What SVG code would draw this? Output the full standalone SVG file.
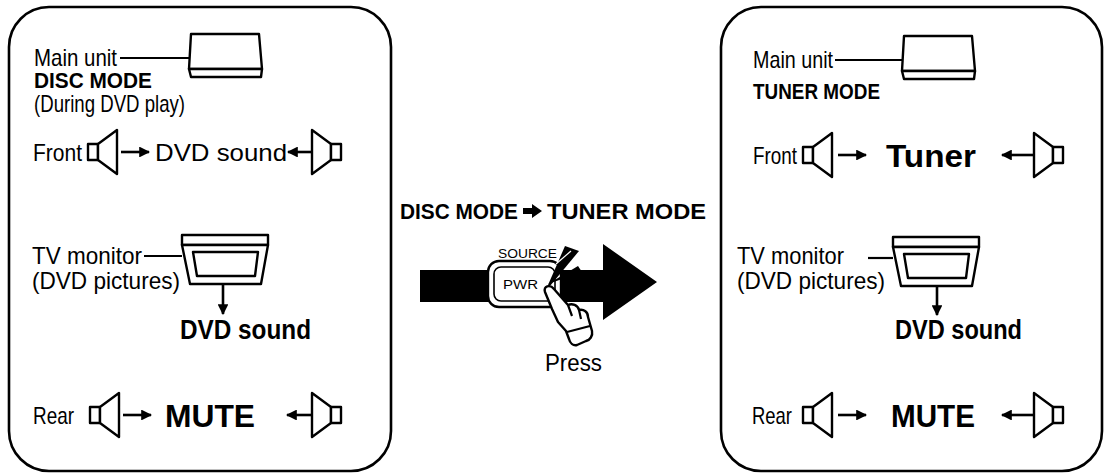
<svg xmlns="http://www.w3.org/2000/svg" xmlns:xlink="http://www.w3.org/1999/xlink" width="1107" height="474" viewBox="0 0 1107 474">
  <style>
    .panel { fill: none; stroke: #000; stroke-width: 2.6; }
    .ln { fill: none; stroke: #000; stroke-width: 2.2; }
    .arr { fill: none; stroke: #000; stroke-width: 2.6; }
    .shape { fill: #fff; stroke: #000; stroke-width: 2.4; stroke-linejoin: round; }
    .ink { fill: #000; stroke: none; }
    text { font-family: "Liberation Sans", Arial, sans-serif; fill: #000; }
    .reg { font-size: 24px; }
    .bsm { font-size: 22px; font-weight: bold; }
    .bmd { font-size: 28px; font-weight: bold; }
    .blg { font-size: 32px; font-weight: bold; }
    .tiny { font-size: 12px; }
  </style>
  <defs>
    <!-- speaker, magnet on the left, cone opening to the right -->
    <g id="spkR">
      <rect x="0" y="-8" width="10" height="16" class="shape"/>
      <path d="M10,-8 L29,-22 L29,22 L10,8 Z" class="shape"/>
    </g>
    <!-- speaker, cone opening to the left, magnet on the right -->
    <g id="spkL">
      <path d="M0,-22 L19,-8 L19,8 L0,22 Z" class="shape"/>
      <rect x="19" y="-8" width="10" height="16" class="shape"/>
    </g>
    <marker id="head" viewBox="0 0 10 10" refX="9" refY="5" markerWidth="4.2" markerHeight="4.2" orient="auto">
      <path d="M0,0 L10,5 L0,10 Z" fill="#000"/>
    </marker>
    <!-- main unit box -->
    <g id="unit">
      <path d="M2,1 L70,1 L73,36 L0,36 Z" class="shape"/>
      <path d="M0,36 L73,36 L72,44 L2,44 Z" class="shape"/>
    </g>
    <!-- TV monitor -->
    <g id="tv">
      <path d="M0,0 L86,0 L86,10 L0,10 Z" class="shape"/>
      <path d="M0,10 L86,10 L79,49 L8,49 Z" class="shape"/>
      <path d="M11,17 L76,17 L73,41 L15,41 Z" class="shape"/>
    </g>
  </defs>

  <!-- left panel: disc mode -->
  <g id="panel-disc">
    <rect x="9" y="7" width="382" height="464" rx="40" ry="40" class="panel"/>
  </g>

  <g id="disc-main-unit">
    <text class="reg" x="34" y="66" textLength="83" lengthAdjust="spacingAndGlyphs">Main unit</text>
    <use xlink:href="#unit" x="189" y="33"/>
  </g>
  <g id="disc-mode-label">
    <text class="bsm" x="34" y="88" textLength="118" lengthAdjust="spacingAndGlyphs">DISC MODE</text>
    <text class="reg" x="34" y="112" textLength="151" lengthAdjust="spacingAndGlyphs">(During DVD play)</text>
  </g>
  <g id="disc-front">
    <text class="reg" x="33" y="161" textLength="49" lengthAdjust="spacingAndGlyphs">Front</text>
    <use xlink:href="#spkR" x="88" y="152"/>
    <text class="reg" x="155" y="161" textLength="132" lengthAdjust="spacingAndGlyphs">DVD sound</text>
    <use xlink:href="#spkL" x="312" y="152"/>
  </g>
  <g id="disc-tv">
    <text class="reg" x="32" y="264" textLength="110" lengthAdjust="spacingAndGlyphs">TV monitor</text>
    <text class="reg" x="32" y="289" textLength="148" lengthAdjust="spacingAndGlyphs">(DVD pictures)</text>
    <use xlink:href="#tv" x="182" y="235"/>
    <text class="bmd" x="180" y="339" textLength="131" lengthAdjust="spacingAndGlyphs">DVD sound</text>
  </g>
  <g id="disc-rear">
    <text class="reg" x="33" y="424" textLength="41" lengthAdjust="spacingAndGlyphs">Rear</text>
    <use xlink:href="#spkR" x="90" y="415"/>
    <text class="blg" x="165" y="427" textLength="90" lengthAdjust="spacingAndGlyphs">MUTE</text>
    <use xlink:href="#spkL" x="312" y="415"/>
  </g>

  <!-- middle: mode change by pressing SOURCE/PWR -->
  <g id="mode-change">
    <text class="bsm" x="400" y="219" textLength="118" lengthAdjust="spacingAndGlyphs">DISC MODE</text>
    <path d="M523,208 L532,208 L532,204 L542,211 L532,218 L532,214 L523,214 Z" class="ink"/>
    <text class="bsm" x="547" y="219" textLength="159" lengthAdjust="spacingAndGlyphs">TUNER MODE</text>
  </g>
  <g id="big-arrow">
    <path d="M420,270 L603,270 L603,244 L657,282 L603,320 L603,302 L420,302 Z" class="ink"/>
  </g>
  <g id="source-button">
    <rect x="488" y="261" width="73" height="46" rx="11" class="shape" stroke-width="2.6"/>
    <rect x="494" y="267" width="61" height="34" rx="7" fill="none" stroke="#000" stroke-width="1.6"/>
    <text class="tiny" x="498" y="258" textLength="59" lengthAdjust="spacingAndGlyphs">SOURCE</text>
    <text class="tiny" x="503" y="289" textLength="35" lengthAdjust="spacingAndGlyphs">PWR</text>
    <path d="M545,292 L565,246 L579,251 Z" class="ink"/>
    <path d="M556,264 L571,251" stroke="#fff" stroke-width="1.2"/>
    <path d="M548,284 L578,266 L582,272 Z" class="ink"/>
  </g>
  <g id="hand">
    <path d="M545,292 C543,286 550,284 554,289 L568,305 C572,303 578,305 579,310 C584,309 588,312 588,317 L592,331 C593,336 590,340 586,341 L577,345 C573,346 570,343 569,339 L566,331 L558,322 L552,309 Z" class="shape" stroke-width="2"/>
    <path d="M567,332 L590,326" class="ln" stroke-width="1.8"/>
    <path d="M568,305 L572,316 M579,310 L581,319" class="ln" stroke-width="1.6"/>
    <text class="reg" x="545" y="371" textLength="57" lengthAdjust="spacingAndGlyphs">Press</text>
  </g>

  <!-- right panel: tuner mode -->
  <g id="panel-tuner">
    <rect x="721" y="7" width="381" height="464" rx="40" ry="40" class="panel"/>
  </g>

  <g id="tuner-main-unit">
    <text class="reg" x="753" y="68" textLength="80" lengthAdjust="spacingAndGlyphs">Main unit</text>
    <use xlink:href="#unit" x="902" y="35"/>
  </g>
  <g id="tuner-mode-label">
    <text class="bsm" x="753" y="99" textLength="127" lengthAdjust="spacingAndGlyphs">TUNER MODE</text>
  </g>
  <g id="tuner-front">
    <text class="reg" x="753" y="164" textLength="44" lengthAdjust="spacingAndGlyphs">Front</text>
    <use xlink:href="#spkR" x="803" y="155"/>
    <text class="blg" x="886" y="167" textLength="90" lengthAdjust="spacingAndGlyphs">Tuner</text>
    <use xlink:href="#spkL" x="1034" y="155"/>
  </g>
  <g id="tuner-tv">
    <text class="reg" x="737" y="264" textLength="107" lengthAdjust="spacingAndGlyphs">TV monitor</text>
    <text class="reg" x="737" y="289" textLength="148" lengthAdjust="spacingAndGlyphs">(DVD pictures)</text>
    <use xlink:href="#tv" x="893" y="237"/>
    <text class="bmd" x="895" y="339" textLength="127" lengthAdjust="spacingAndGlyphs">DVD sound</text>
  </g>
  <g id="tuner-rear">
    <text class="reg" x="752" y="424" textLength="40" lengthAdjust="spacingAndGlyphs">Rear</text>
    <use xlink:href="#spkR" x="803" y="415"/>
    <text class="blg" x="891" y="427" textLength="84" lengthAdjust="spacingAndGlyphs">MUTE</text>
    <use xlink:href="#spkL" x="1034" y="415"/>
  </g>

  <!-- connectors -->
  <g id="connectors">
    <path d="M120,58 L189,58" class="ln"/>
    <path d="M144,256 L182,256" class="ln"/>
    <path d="M121,152 L149,152" class="arr" marker-end="url(#head)"/>
    <path d="M311,152 L288,152" class="arr" marker-end="url(#head)"/>
    <path d="M223,284 L223,314" class="arr" marker-end="url(#head)"/>
    <path d="M123,415 L151,415" class="arr" marker-end="url(#head)"/>
    <path d="M311,415 L287,415" class="arr" marker-end="url(#head)"/>

    <path d="M835,60 L902,60" class="ln"/>
    <path d="M868,258 L893,258" class="ln"/>
    <path d="M838,155 L866,155" class="arr" marker-end="url(#head)"/>
    <path d="M1033,155 L1002,155" class="arr" marker-end="url(#head)"/>
    <path d="M937,286 L937,315" class="arr" marker-end="url(#head)"/>
    <path d="M838,415 L866,415" class="arr" marker-end="url(#head)"/>
    <path d="M1033,415 L1002,415" class="arr" marker-end="url(#head)"/>
  </g>
</svg>
